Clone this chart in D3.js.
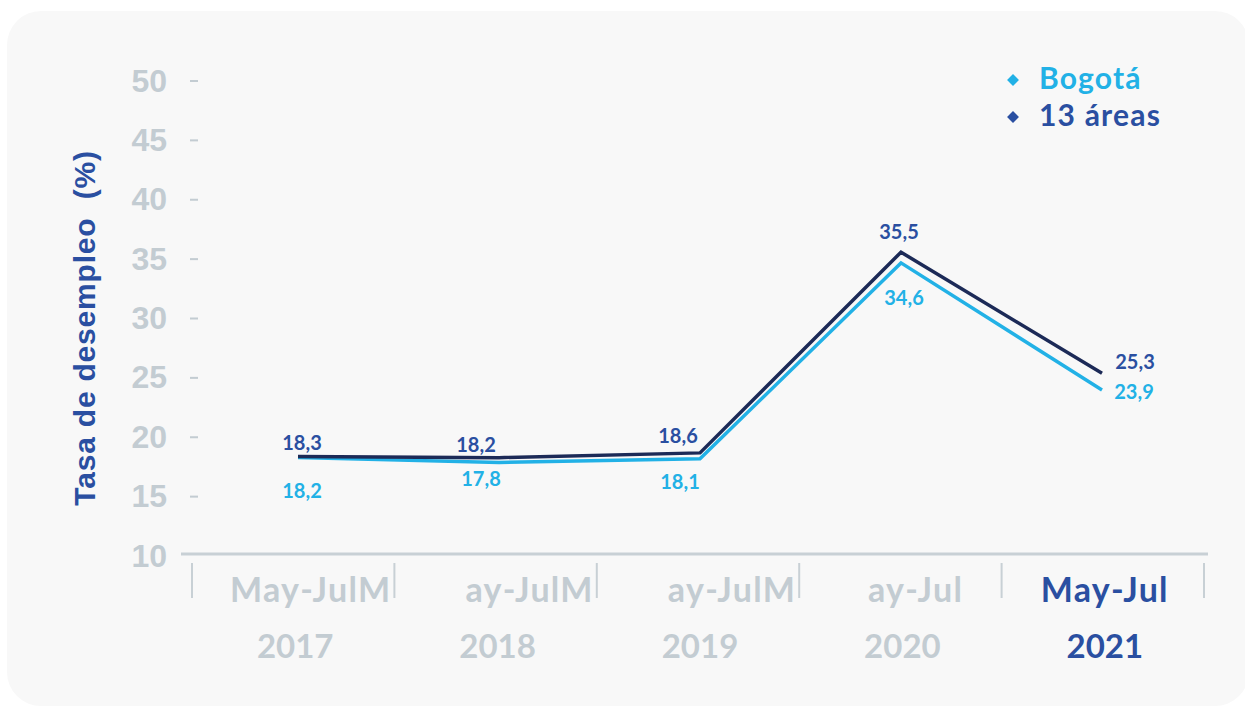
<!DOCTYPE html>
<html><head><meta charset="utf-8">
<script src="https://cdn.jsdelivr.net/npm/d3@7"></script>
<style>
html,body{margin:0;padding:0;background:#fff;}
svg{display:block;}
</style></head>
<body>
<svg id="chart" width="1245" height="708"></svg>
<script>
// ---- data ----
const periods = ["May-Jul 2017","May-Jul 2018","May-Jul 2019","May-Jul 2020","May-Jul 2021"];
const labelLine1 = ["May-JulM","ay-JulM","ay-JulM","ay-Jul","May-Jul"];
const labelLine2 = ["2017","2018","2019","2020","2021"];
const bogota = [18.2, 17.8, 18.1, 34.6, 23.9];
const areas13 = [18.3, 18.2, 18.6, 35.5, 25.3];
const yTicks = [10, 15, 20, 25, 30, 35, 40, 45, 50];
const seriesNames = ["Bogotá", "13 áreas"];

// ---- layout ----
const svg = d3.select("#chart");
const cLight = "#22b1e6", cDark = "#1c2a57", cMid = "#2a4fa1", cGray = "#c3ccd2";
const fmt = v => String(v).replace(".", ",");

svg.append("rect").attr("x", 7).attr("y", 11).attr("width", 1242).attr("height", 695)
  .attr("rx", 34).attr("fill", "#f8f8f8");

const y = d3.scaleLinear().domain([10, 50]).range([555, 80]);
const xBand = d3.scaleBand().domain(periods).range([192, 1204]);
const xPt = d3.scalePoint().domain(periods).range([298, 1102]);

// y ticks
const yg = svg.append("g");
yg.selectAll("text.yt").data(yTicks).join("text")
  .attr("x", 167).attr("y", d => y(d)).attr("dy", "0.36em")
  .attr("text-anchor", "end")
  .attr("font-family", "Liberation Sans, Arial, sans-serif").attr("font-weight", "bold")
  .attr("font-size", 32).attr("fill", cGray).text(d => d);
yg.selectAll("line.yd").data(yTicks.filter(d => d > 10)).join("line")
  .attr("x1", 190).attr("x2", 198).attr("y1", d => y(d) + 1).attr("y2", d => y(d) + 1)
  .attr("stroke", cGray).attr("stroke-width", 2);

// axis line
svg.append("line").attr("x1", 181).attr("x2", 1208).attr("y1", y(10) - 1).attr("y2", y(10) - 1)
  .attr("stroke", "#c8d0d5").attr("stroke-width", 3);

// separators
const seps = periods.map(p => xBand(p)).concat([xBand.range()[1]]);
svg.selectAll("line.sep").data(seps).join("line")
  .attr("x1", d => d).attr("x2", d => d).attr("y1", 563).attr("y2", 598)
  .attr("stroke", "#c8d0d5").attr("stroke-width", 2);

// x labels
const xl = svg.append("g");
const lab1Font = 34, lab1Spacing = 1.3;
const probe = svg.append("text").attr("font-family", "Lato, sans-serif").attr("font-weight", "bold")
  .attr("font-size", lab1Font).attr("letter-spacing", lab1Spacing).text("M");
const mW = probe.node().getComputedTextLength();
probe.remove();
periods.forEach((p, i) => {
  const last = i === periods.length - 1;
  const cx = xBand(p) + xBand.bandwidth() / 2;
  const endsM = labelLine1[i].endsWith("M");
  const ex = xBand(p) + xBand.bandwidth() - 3 - (endsM ? 0 : mW + 2);
  xl.append("text").attr("x", last ? cx + 2 : ex).attr("y", 602)
    .attr("text-anchor", last ? "middle" : "end")
    .attr("font-family", "Lato, sans-serif").attr("font-weight", "bold").attr("font-size", lab1Font)
    .attr("letter-spacing", lab1Spacing)
    .attr("fill", last ? cMid : cGray).text(labelLine1[i]);
  xl.append("text").attr("x", cx + 2).attr("y", 658).attr("text-anchor", "middle")
    .attr("font-family", "Lato, sans-serif").attr("font-weight", "bold").attr("font-size", 33)
    .attr("fill", last ? cMid : cGray).text(labelLine2[i]);
});

// y title
svg.append("text").attr("transform", "translate(95,328) rotate(-90)")
  .attr("text-anchor", "middle")
  .attr("font-family", "Liberation Sans, Arial, sans-serif").attr("font-weight", "bold")
  .attr("font-size", 30).attr("letter-spacing", 0.8).attr("fill", cMid)
  .text("Tasa de desempleo\u00a0\u00a0(%)");

// lines
const line = d3.line().x((d, i) => xPt(periods[i])).y(d => y(d));
svg.append("path").datum(bogota).attr("d", line).attr("fill", "none")
  .attr("stroke", cLight).attr("stroke-width", 3.5).attr("stroke-linejoin", "miter");
svg.append("path").datum(areas13).attr("d", line).attr("fill", "none")
  .attr("stroke", cDark).attr("stroke-width", 3.5).attr("stroke-linejoin", "miter");

// value labels (offsets relative to point)
const darkOff = [[4, -6], [-23, -6], [-22, -10], [-2, -13], [33, -4]];
const lightOff = [[4, 40], [-18, 24], [-20, 30], [3, 42], [32, 9]];
const lg = svg.append("g").attr("font-family", "Lato, sans-serif").attr("font-weight", "bold")
  .attr("font-size", 20).attr("text-anchor", "middle");
lg.selectAll("text.d").data(areas13).join("text")
  .attr("x", (d, i) => xPt(periods[i]) + darkOff[i][0])
  .attr("y", (d, i) => y(d) + darkOff[i][1]).attr("fill", cMid).text(fmt);
lg.selectAll("text.l").data(bogota).join("text")
  .attr("x", (d, i) => xPt(periods[i]) + lightOff[i][0])
  .attr("y", (d, i) => y(d) + lightOff[i][1]).attr("fill", cLight).text(fmt);

// legend
const leg = svg.append("g");
const legColors = [cLight, cMid];
seriesNames.forEach((n, i) => {
  const yy = 78 + i * 37;
  leg.append("path").attr("d", d3.symbol(d3.symbolDiamond2, 90)())
    .attr("transform", `translate(1013,${yy + 2})`).attr("fill", legColors[i]);
  leg.append("text").attr("x", 1039).attr("y", yy).attr("dy", "0.35em")
    .attr("font-family", "Lato, sans-serif").attr("font-weight", "bold").attr("font-size", 30)
    .attr("letter-spacing", 1.2).attr("fill", legColors[i]).text(n);
});
</script>
</body></html>
